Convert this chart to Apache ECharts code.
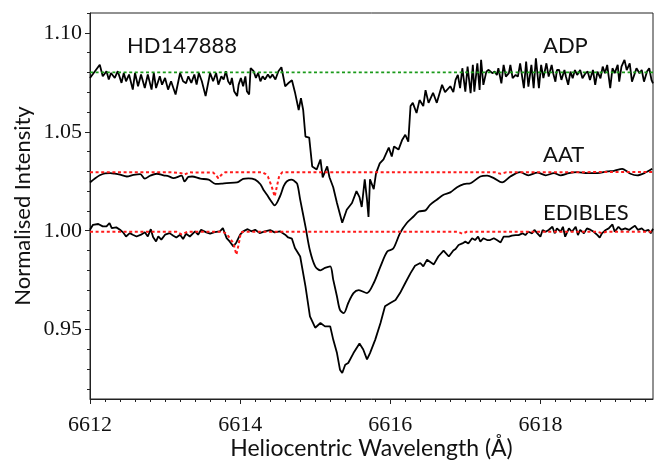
<!DOCTYPE html>
<html>
<head>
<meta charset="utf-8">
<script src="https://cdn.jsdelivr.net/npm/echarts@6/dist/echarts.min.js"></script>
<style>
html,body{margin:0;padding:0;background:#fff;}
#chart{width:655px;height:461px;}
</style>
</head>
<body>
<div id="chart"></div>
<script>
// ---- data (wavelength in Angstrom, normalised intensity) ----
const adpWave = [6612.00,6612.13,6612.17,6612.22,6612.25,6612.28,6612.33,6612.37,6612.42,6612.45,6612.48,6612.52,6612.57,6612.60,6612.64,6612.68,6612.73,6612.77,6612.82,6612.85,6612.88,6612.93,6612.96,6613.00,6613.04,6613.08,6613.14,6613.20,6613.24,6613.28,6613.31,6613.35,6613.39,6613.42,6613.45,6613.49,6613.54,6613.60,6613.64,6613.68,6613.71,6613.75,6613.78,6613.81,6613.84,6613.87,6613.89,6613.92,6613.96,6613.98,6614.01,6614.04,6614.07,6614.09,6614.12,6614.14,6614.18,6614.21,6614.24,6614.27,6614.30,6614.33,6614.37,6614.40,6614.43,6614.47,6614.51,6614.55,6614.60,6614.64,6614.69,6614.73,6614.78,6614.81,6614.84,6614.87,6614.92,6614.96,6615.02,6615.07,6615.10,6615.16,6615.19,6615.24,6615.29,6615.36,6615.42,6615.49,6615.55,6615.59,6615.62,6615.66,6615.69,6615.71,6615.73,6615.78,6615.81,6615.86,6615.91,6615.98,6616.02,6616.05,6616.11,6616.16,6616.20,6616.24,6616.27,6616.30,6616.35,6616.39,6616.44,6616.47,6616.51,6616.57,6616.62,6616.69,6616.73,6616.80,6616.84,6616.87,6616.90,6616.93,6616.96,6617.00,6617.03,6617.07,6617.10,6617.12,6617.16,6617.19,6617.21,6617.24,6617.28,6617.31,6617.36,6617.39,6617.42,6617.44,6617.48,6617.51,6617.54,6617.58,6617.60,6617.63,6617.67,6617.70,6617.73,6617.78,6617.81,6617.84,6617.88,6617.91,6617.94,6617.98,6618.01,6618.04,6618.08,6618.11,6618.15,6618.17,6618.20,6618.22,6618.25,6618.28,6618.32,6618.34,6618.37,6618.40,6618.43,6618.46,6618.49,6618.53,6618.56,6618.60,6618.63,6618.66,6618.70,6618.73,6618.76,6618.80,6618.83,6618.86,6618.89,6618.93,6618.96,6618.99,6619.03,6619.05,6619.08,6619.12,6619.15,6619.19,6619.22,6619.25,6619.28,6619.32,6619.35,6619.38,6619.42,6619.45,6619.48,6619.50];
const adpFlux = [1.0772,1.0839,1.0780,1.0806,1.0764,1.0797,1.0772,1.0806,1.0747,1.0797,1.0755,1.0789,1.0713,1.0797,1.0730,1.0789,1.0721,1.0789,1.0713,1.0797,1.0721,1.0780,1.0738,1.0772,1.0713,1.0755,1.0688,1.0797,1.0755,1.0745,1.0780,1.0747,1.0789,1.0738,1.0797,1.0755,1.0680,1.0797,1.0755,1.0797,1.0738,1.0780,1.0764,1.0806,1.0755,1.0738,1.0772,1.0705,1.0680,1.0738,1.0772,1.0730,1.0780,1.0705,1.0688,1.0822,1.0806,1.0772,1.0797,1.0755,1.0780,1.0764,1.0789,1.0772,1.0789,1.0764,1.0806,1.0826,1.0730,1.0745,1.0760,1.0700,1.0610,1.0670,1.0610,1.0476,1.0470,1.0325,1.0310,1.0360,1.0270,1.0325,1.0270,1.0220,1.0140,1.0040,1.0106,1.0140,1.0200,1.0170,1.0120,1.0260,1.0157,1.0070,1.0260,1.0210,1.0290,1.0340,1.0360,1.0420,1.0375,1.0426,1.0410,1.0460,1.0485,1.0450,1.0630,1.0646,1.0595,1.0660,1.0630,1.0710,1.0646,1.0697,1.0646,1.0737,1.0700,1.0730,1.0700,1.0762,1.0787,1.0720,1.0821,1.0703,1.0829,1.0695,1.0838,1.0703,1.0846,1.0711,1.0863,1.0737,1.0804,1.0813,1.0796,1.0804,1.0787,1.0821,1.0745,1.0838,1.0779,1.0796,1.0838,1.0771,1.0787,1.0779,1.0846,1.0720,1.0854,1.0728,1.0838,1.0720,1.0871,1.0720,1.0838,1.0771,1.0846,1.0779,1.0838,1.0796,1.0753,1.0812,1.0812,1.0762,1.0812,1.0779,1.0737,1.0804,1.0770,1.0812,1.0787,1.0812,1.0770,1.0796,1.0804,1.0762,1.0812,1.0737,1.0804,1.0770,1.0829,1.0796,1.0838,1.0720,1.0821,1.0796,1.0838,1.0753,1.0829,1.0863,1.0812,1.0846,1.0753,1.0787,1.0821,1.0796,1.0812,1.0753,1.0804,1.0821,1.0762,1.0745];

const aatWave = [6612.00,6612.07,6612.13,6612.20,6612.27,6612.33,6612.40,6612.49,6612.58,6612.67,6612.73,6612.80,6612.89,6612.98,6613.05,6613.11,6613.22,6613.26,6613.31,6613.36,6613.47,6613.58,6613.67,6613.75,6613.82,6613.96,6614.04,6614.11,6614.20,6614.27,6614.31,6614.36,6614.40,6614.46,6614.53,6614.58,6614.62,6614.68,6614.72,6614.76,6614.80,6614.87,6614.93,6615.00,6615.07,6615.13,6615.20,6615.24,6615.29,6615.33,6615.38,6615.44,6615.51,6615.58,6615.69,6615.78,6615.87,6615.96,6616.04,6616.13,6616.22,6616.31,6616.38,6616.47,6616.53,6616.62,6616.71,6616.80,6616.89,6616.98,6617.07,6617.20,6617.29,6617.38,6617.49,6617.60,6617.73,6617.84,6617.96,6618.07,6618.18,6618.27,6618.38,6618.49,6618.62,6618.76,6618.89,6618.98,6619.09,6619.20,6619.29,6619.40,6619.49];
const aatFlux = [1.0244,1.0265,1.0280,1.0290,1.0291,1.0288,1.0283,1.0274,1.0282,1.0286,1.0263,1.0278,1.0288,1.0280,1.0275,1.0266,1.0278,1.0249,1.0272,1.0274,1.0263,1.0258,1.0237,1.0238,1.0241,1.0244,1.0262,1.0265,1.0258,1.0235,1.0207,1.0180,1.0157,1.0128,1.0173,1.0225,1.0249,1.0258,1.0252,1.0237,1.0157,1.0022,0.9900,0.9820,0.9800,0.9812,0.9820,0.9753,0.9668,0.9600,0.9584,0.9635,0.9685,0.9700,0.9685,0.9736,0.9820,0.9895,0.9910,0.9988,1.0039,1.0072,1.0097,1.0103,1.0131,1.0157,1.0182,1.0194,1.0220,1.0236,1.0240,1.0274,1.0278,1.0266,1.0244,1.0274,1.0296,1.0280,1.0294,1.0280,1.0291,1.0280,1.0291,1.0296,1.0291,1.0291,1.0300,1.0303,1.0313,1.0288,1.0280,1.0294,1.0313];

const edWave = [6612.00,6612.04,6612.11,6612.17,6612.22,6612.26,6612.29,6612.35,6612.40,6612.44,6612.48,6612.53,6612.57,6612.62,6612.68,6612.73,6612.77,6612.81,6612.84,6612.88,6612.91,6612.95,6613.00,6613.06,6613.11,6613.15,6613.20,6613.24,6613.28,6613.33,6613.40,6613.44,6613.48,6613.55,6613.60,6613.66,6613.73,6613.77,6613.82,6613.86,6613.91,6613.95,6614.00,6614.04,6614.10,6614.15,6614.20,6614.26,6614.33,6614.40,6614.46,6614.53,6614.60,6614.64,6614.69,6614.73,6614.80,6614.87,6614.93,6615.00,6615.07,6615.13,6615.20,6615.24,6615.29,6615.33,6615.36,6615.40,6615.44,6615.51,6615.59,6615.64,6615.69,6615.73,6615.80,6615.87,6615.93,6616.00,6616.07,6616.13,6616.20,6616.27,6616.33,6616.40,6616.44,6616.49,6616.58,6616.64,6616.71,6616.78,6616.84,6616.87,6616.91,6616.96,6617.00,6617.04,6617.09,6617.13,6617.17,6617.20,6617.24,6617.29,6617.33,6617.38,6617.42,6617.47,6617.51,6617.53,6617.58,6617.62,6617.67,6617.71,6617.76,6617.80,6617.84,6617.89,6617.92,6617.96,6618.00,6618.03,6618.07,6618.11,6618.16,6618.19,6618.22,6618.27,6618.30,6618.33,6618.38,6618.42,6618.47,6618.50,6618.53,6618.58,6618.62,6618.67,6618.71,6618.76,6618.79,6618.82,6618.87,6618.91,6618.96,6618.99,6619.04,6619.08,6619.13,6619.18,6619.22,6619.26,6619.30,6619.35,6619.39,6619.44,6619.47,6619.50];
const edFlux = [1.0005,1.0030,1.0034,1.0022,1.0022,1.0039,1.0013,1.0017,1.0005,0.9992,0.9971,0.9988,0.9980,0.9971,0.9980,0.9992,0.9971,1.0008,0.9968,0.9946,0.9971,0.9955,0.9980,0.9988,0.9975,0.9966,0.9980,0.9958,0.9985,0.9971,0.9997,0.9980,1.0005,0.9992,0.9985,0.9993,0.9997,1.0013,0.9963,0.9946,0.9921,0.9941,0.9980,0.9997,1.0008,0.9997,1.0005,0.9988,0.9997,1.0003,0.9992,0.9997,0.9980,0.9966,0.9960,0.9913,0.9870,0.9720,0.9567,0.9510,0.9534,0.9517,0.9517,0.9450,0.9382,0.9298,0.9281,0.9323,0.9332,0.9382,0.9430,0.9400,0.9350,0.9382,0.9450,0.9534,0.9618,0.9635,0.9650,0.9685,0.9736,0.9786,0.9823,0.9837,0.9820,0.9854,0.9830,0.9870,0.9900,0.9870,0.9900,0.9908,0.9928,0.9936,0.9945,0.9936,0.9962,0.9953,0.9970,0.9945,0.9962,0.9953,0.9953,0.9962,0.9953,0.9941,0.9970,0.9978,0.9970,0.9975,0.9978,0.9978,0.9987,0.9978,0.9995,0.9987,1.0004,0.9987,0.9970,1.0004,0.9995,1.0004,1.0020,0.9987,1.0012,0.9995,1.0020,0.9970,1.0012,0.9995,1.0020,0.9978,1.0004,0.9987,1.0012,1.0004,0.9995,0.9978,0.9965,0.9987,1.0004,1.0012,1.0032,0.9995,1.0020,1.0004,1.0012,1.0004,1.0015,1.0025,1.0004,1.0012,0.9998,1.0004,0.9987,1.0010];

// telluric models (dotted)
const aatModelWave = [6612.00,6613.10,6613.22,6613.26,6613.32,6613.64,6613.68,6613.71,6613.75,6613.80,6614.30,6614.34,6614.37,6614.42,6614.46,6614.48,6614.52,6614.56,6617.40,6617.47,6617.54,6619.50];
const aatModelFlux = [1.0295,1.0295,1.0290,1.0284,1.0295,1.0294,1.0280,1.0265,1.0282,1.0295,1.0295,1.0286,1.0274,1.0224,1.0173,1.0207,1.0276,1.0295,1.0295,1.0288,1.0295,1.0297];
const edModelWave = [6612.00,6613.15,6613.22,6613.30,6613.76,6613.82,6613.87,6613.91,6613.95,6613.98,6614.01,6614.05,6616.90,6616.96,6617.02,6618.76,6618.82,6618.88,6619.50];
const edModelFlux = [0.9995,0.9995,0.9982,0.9995,0.9995,0.9985,0.9958,0.9938,0.9879,0.9930,0.9992,0.9995,0.9995,0.9985,0.9995,0.9995,0.9988,0.9995,0.9995];
const adpModelWave = [6612.00,6619.50];
const adpModelFlux = [1.0800,1.0800];

// axes
const xRange = [6612, 6619.5];
const yRange = [0.915, 1.11];
const xTickLabels = [6612, 6614, 6616, 6618];
const yTickLabels = [0.95, 1.00, 1.05, 1.10];
const xMinorTicks = [];
for (let i = 0; i <= 37; i++) xMinorTicks.push(+(6612 + 0.2 * i).toFixed(1));
const yMinorTicks = [];
for (let i = 0; i <= 19; i++) yMinorTicks.push(+(0.92 + 0.01 * i).toFixed(2));

const labels = [
  {text: 'HD147888', x: 127, y: 46},
  {text: 'ADP', x: 543, y: 46},
  {text: 'AAT', x: 543, y: 155},
  {text: 'EDIBLES', x: 543, y: 213}
];

function pairs(w, f) { return w.map((x, i) => [x, f[i]]); }

const sansFont = 'Lato';
const serifFont = 'Liberation Serif';

const chart = echarts.init(document.getElementById('chart'), null, {renderer: 'canvas'});

const baseX = {type: 'value', min: xRange[0], max: xRange[1], gridIndex: 0, splitLine: {show: false}};
const baseY = {type: 'value', min: yRange[0], max: yRange[1], gridIndex: 0, splitLine: {show: false}};

const option = {
  animation: false,
  backgroundColor: '#fff',
  grid: {left: 90, right: 2, top: 13, bottom: 62, containLabel: false, outerBoundsMode: 'none',
    show: true, borderColor: '#222', borderWidth: 1, backgroundColor: 'transparent'},
  xAxis: [
    Object.assign({}, baseX, {
      position: 'bottom',
      axisLine: {show: true, onZero: false, lineStyle: {color: '#222', width: 1}},
      axisTick: {show: true, inside: false, length: 5, customValues: xTickLabels, lineStyle: {color: '#222', width: 1}},
      axisLabel: {show: true, customValues: xTickLabels, margin: 15, color: '#111', fontFamily: serifFont, fontSize: 22,
        formatter: v => String(Math.round(v))},
      name: 'Heliocentric Wavelength (Å)', nameLocation: 'middle', nameGap: 38, nameMoveOverlap: false,
      nameTextStyle: {fontFamily: sansFont, fontSize: 23, color: '#111'}
    }),
    Object.assign({}, baseX, {
      position: 'bottom',
      axisLine: {show: false, onZero: false},
      axisTick: {show: true, inside: false, length: 3, customValues: xMinorTicks, lineStyle: {color: '#222', width: 1}},
      axisLabel: {show: false, customValues: xMinorTicks}
    })
  ],
  yAxis: [
    Object.assign({}, baseY, {
      position: 'left',
      axisLine: {show: true, onZero: false, lineStyle: {color: '#222', width: 1}},
      axisTick: {show: true, inside: false, length: 5, customValues: yTickLabels, lineStyle: {color: '#222', width: 1}},
      axisLabel: {show: true, customValues: yTickLabels, margin: 8, color: '#111', fontFamily: serifFont, fontSize: 22,
        formatter: v => v.toFixed(2)},
      name: 'Normalised Intensity', nameLocation: 'middle', nameGap: 56, nameMoveOverlap: false,
      nameTextStyle: {fontFamily: sansFont, fontSize: 22, color: '#111'}
    }),
    Object.assign({}, baseY, {
      position: 'left',
      axisLine: {show: false, onZero: false},
      axisTick: {show: true, inside: false, length: 3, customValues: yMinorTicks, lineStyle: {color: '#222', width: 1}},
      axisLabel: {show: false, customValues: yMinorTicks}
    })
  ],
  series: [
    {name: 'ADP', type: 'line', data: pairs(adpWave, adpFlux), showSymbol: false, symbol: 'none',
      lineStyle: {color: '#000', width: 1.8}, z: 2},
    {name: 'AAT', type: 'line', data: pairs(aatWave, aatFlux), showSymbol: false, symbol: 'none', smooth: 0.3,
      lineStyle: {color: '#000', width: 1.8}, z: 2},
    {name: 'EDIBLES', type: 'line', data: pairs(edWave, edFlux), showSymbol: false, symbol: 'none',
      lineStyle: {color: '#000', width: 1.8}, z: 2},
    {name: 'ADP model', type: 'line', data: pairs(adpModelWave, adpModelFlux), showSymbol: false, symbol: 'none',
      lineStyle: {color: '#1a9a1a', width: 1.8, type: [3, 2.6]}, z: 3},
    {name: 'AAT model', type: 'line', data: pairs(aatModelWave, aatModelFlux), showSymbol: false, symbol: 'none',
      lineStyle: {color: '#ff1a1a', width: 2, type: [3, 2.6]}, z: 3},
    {name: 'EDIBLES model', type: 'line', data: pairs(edModelWave, edModelFlux), showSymbol: false, symbol: 'none',
      lineStyle: {color: '#ff1a1a', width: 2, type: [3, 2.6]}, z: 3}
  ],
  graphic: labels.map(l => ({
    type: 'text', x: l.x, y: l.y, z: 10,
    style: {text: l.text, fill: '#111', font: '22px ' + sansFont, verticalAlign: 'middle', align: 'left'}
  }))
};

chart.setOption(option);
</script>
</body>
</html>
